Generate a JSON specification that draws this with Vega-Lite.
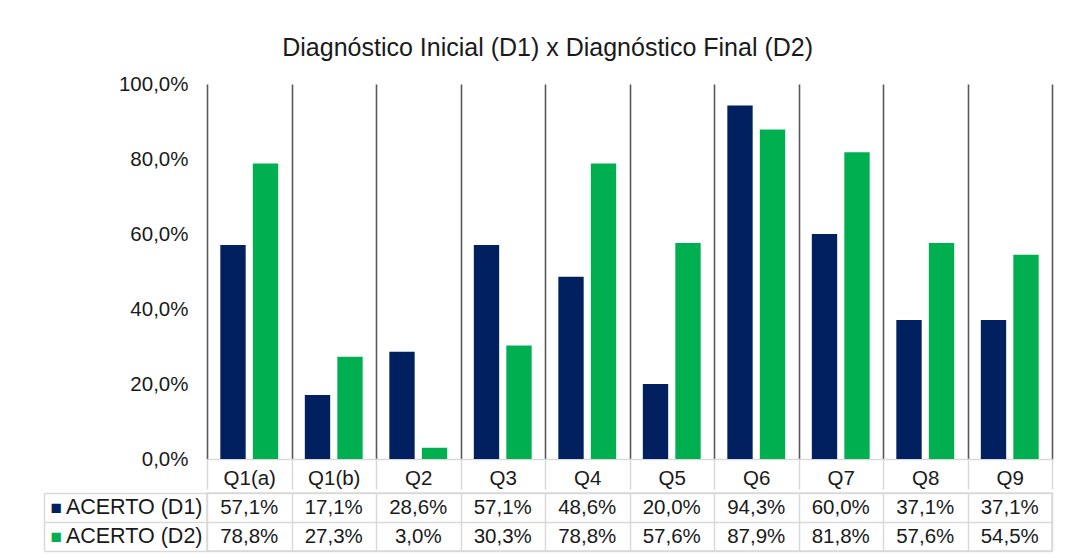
{
  "$schema": "https://vega.github.io/schema/vega-lite/v6.json",
  "padding": {"left": 42, "top": 36, "right": 20, "bottom": 5},
  "background": "white",
  "title": {"text": "Diagnóstico Inicial (D1) x Diagnóstico Final (D2)", "fontSize": 25, "fontWeight": "normal", "color": "#1a1a1a", "offset": 13, "anchor": "middle"},
  "config": {
    "font": "Liberation Sans",
    "locale": {"number": {"decimal": ",", "thousands": ".", "grouping": [3], "currency": ["", " €"]}},
    "concat": {"spacing": -9}
  },
  "datasets": {
    "acertos": [
      {"questao": "Q1(a)", "serie": "ACERTO (D1)", "valor": 0.571},
      {"questao": "Q1(b)", "serie": "ACERTO (D1)", "valor": 0.171},
      {"questao": "Q2", "serie": "ACERTO (D1)", "valor": 0.286},
      {"questao": "Q3", "serie": "ACERTO (D1)", "valor": 0.571},
      {"questao": "Q4", "serie": "ACERTO (D1)", "valor": 0.486},
      {"questao": "Q5", "serie": "ACERTO (D1)", "valor": 0.200},
      {"questao": "Q6", "serie": "ACERTO (D1)", "valor": 0.943},
      {"questao": "Q7", "serie": "ACERTO (D1)", "valor": 0.600},
      {"questao": "Q8", "serie": "ACERTO (D1)", "valor": 0.371},
      {"questao": "Q9", "serie": "ACERTO (D1)", "valor": 0.371},
      {"questao": "Q1(a)", "serie": "ACERTO (D2)", "valor": 0.788},
      {"questao": "Q1(b)", "serie": "ACERTO (D2)", "valor": 0.273},
      {"questao": "Q2", "serie": "ACERTO (D2)", "valor": 0.030},
      {"questao": "Q3", "serie": "ACERTO (D2)", "valor": 0.303},
      {"questao": "Q4", "serie": "ACERTO (D2)", "valor": 0.788},
      {"questao": "Q5", "serie": "ACERTO (D2)", "valor": 0.576},
      {"questao": "Q6", "serie": "ACERTO (D2)", "valor": 0.879},
      {"questao": "Q7", "serie": "ACERTO (D2)", "valor": 0.818},
      {"questao": "Q8", "serie": "ACERTO (D2)", "valor": 0.576},
      {"questao": "Q9", "serie": "ACERTO (D2)", "valor": 0.545}
    ]
  },
  "vconcat": [
    {
      "width": 845,
      "height": 375,
      "data": {"name": "acertos"},
      "view": {"stroke": null},
      "mark": {"type": "bar"},
      "encoding": {
        "x": {
          "field": "questao", "type": "nominal", "sort": null,
          "scale": {"paddingInner": 0, "paddingOuter": 0},
          "axis": {
            "title": null, "labelAngle": 0, "labelFontSize": 20.5, "labelColor": "#1a1a1a",
            "grid": true, "gridColor": "#595959", "gridWidth": 1.6, "tickBand": "extent",
            "ticks": true, "tickSize": 30, "tickColor": "#d9d9d9", "tickWidth": 1.5,
            "domain": true, "domainColor": "#d9d9d9", "domainWidth": 1.5,
            "labelPadding": -21, "labelBaseline": "top"
          }
        },
        "xOffset": {"field": "serie", "type": "nominal", "scale": {"paddingInner": 0.22, "paddingOuter": 0.41}},
        "y": {
          "field": "valor", "type": "quantitative",
          "scale": {"domain": [0, 1], "nice": false},
          "axis": {
            "title": null, "values": [0, 0.2, 0.4, 0.6, 0.8, 1], "format": ".1%",
            "labelFontSize": 20.5, "labelColor": "#1a1a1a", "grid": false, "ticks": false,
            "domain": false, "labelPadding": 19
          }
        },
        "color": {
          "field": "serie", "type": "nominal",
          "scale": {"domain": ["ACERTO (D1)", "ACERTO (D2)"], "range": ["#002060", "#00B050"]},
          "legend": null
        }
      }
    },
    {
      "width": 845,
      "height": 58,
      "data": {"name": "acertos"},
      "view": {"stroke": "#d9d9d9", "strokeWidth": 1.5},
      "layer": [
        {
          "mark": {"type": "text", "fontSize": 20.5, "color": "#1a1a1a"},
          "encoding": {
            "x": {
              "field": "questao", "type": "nominal", "sort": null,
              "scale": {"paddingInner": 0, "paddingOuter": 0},
              "axis": {
                "title": null, "labels": false, "ticks": false, "domain": false,
                "grid": true, "gridColor": "#d9d9d9", "gridWidth": 1.5, "tickBand": "extent"
              }
            },
            "y": {
              "field": "serie", "type": "nominal",
              "scale": {"paddingInner": 0, "paddingOuter": 0},
              "axis": {
                "title": null, "orient": "left", "labelFontSize": 21.5, "labelColor": "#1a1a1a",
                "grid": true, "gridColor": "#d9d9d9", "gridWidth": 1.5, "tickBand": "extent",
                "ticks": true, "tickSize": 163, "tickColor": "#d9d9d9", "tickWidth": 1.5,
                "domain": false, "labelPadding": -158
              }
            },
            "text": {"field": "valor", "type": "quantitative", "format": ".1%"}
          }
        },
        {
          "mark": {"type": "text", "opacity": 0},
          "encoding": {
            "y": {
              "field": "serie", "type": "nominal",
              "scale": {"paddingInner": 0, "paddingOuter": 0},
              "axis": {
                "title": null, "orient": "left", "offset": 163,
                "domain": true, "domainColor": "#d9d9d9", "domainWidth": 1.5,
                "ticks": false, "grid": false,
                "labelExpr": "'■'", "labelAlign": "left", "labelPadding": -6, "labelFontSize": 19,
                "labelColor": {"condition": {"test": "datum.value === 'ACERTO (D1)'", "value": "#002060"}, "value": "#00B050"}
              }
            },
            "text": {"value": ""}
          }
        }
      ],
      "resolve": {"scale": {"y": "independent"}, "axis": {"y": "independent"}}
    }
  ]
}
